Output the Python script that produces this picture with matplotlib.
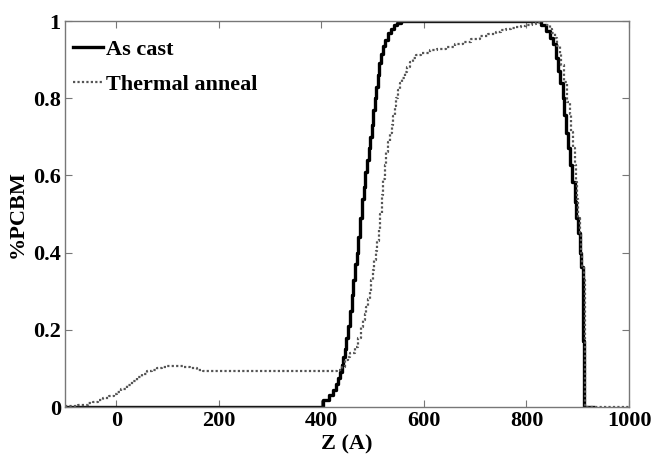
import numpy as np
from matplotlib import pyplot as plt
from matplotlib.ticker import FormatStrFormatter

# As cast profile (step breakpoints)
z_cast = [-100, 404, 415, 423, 428, 433, 437, 440, 443, 446, 449, 452, 456, 459, 462,
          466, 469, 472, 476, 480, 483, 486, 489, 492, 495, 498, 501, 504, 507, 510,
          513, 517, 521, 525, 530, 535, 541, 548, 556,
          828, 838, 846, 851, 857, 862, 866, 871, 874, 878, 881, 885, 889, 894,
          897, 900, 904, 907, 910, 911, 912, 930]
v_cast = [0, 0.018, 0.03, 0.045, 0.06, 0.075, 0.09, 0.11, 0.13, 0.15, 0.18, 0.21, 0.25,
          0.29, 0.33, 0.37, 0.40, 0.44, 0.49, 0.54, 0.57, 0.61, 0.64, 0.67, 0.70, 0.73,
          0.77, 0.80, 0.83, 0.86, 0.89, 0.915, 0.935, 0.95, 0.97, 0.98, 0.99, 0.996, 1.0,
          0.99, 0.975, 0.955, 0.94, 0.905, 0.87, 0.84, 0.80, 0.756, 0.71, 0.67, 0.627,
          0.583, 0.53, 0.49, 0.45, 0.40, 0.363, 0.33, 0.17, 0.0, 0.0]

# Thermal anneal profile
z_ann = [-100, -75, -55, -45, -35, -25, -15, -5, 2, 10, 21, 30, 41, 50, 60, 70, 79, 90, 99,
         118, 130, 144, 157, 170, 190, 430, 440, 446, 451, 456, 465, 472, 478, 482, 485,
         488, 491, 494, 497, 500, 503, 506, 509, 512, 515, 518, 521, 524, 527, 530, 534,
         537, 540, 543, 546, 550, 554, 558, 563, 567, 572, 578, 585, 595, 611, 625, 644,
         660, 676, 692, 709, 725, 740, 750, 761, 770, 780, 790, 800, 810, 819, 825,
         840, 845, 850, 855, 860, 865, 868, 874, 880, 884, 887, 891, 894, 896, 898, 901,
         904, 907, 909, 912, 914, 1000]
v_ann = [0.003, 0.006, 0.01, 0.014, 0.018, 0.023, 0.029, 0.035, 0.04, 0.047, 0.057, 0.067,
         0.079, 0.086, 0.092, 0.097, 0.10, 0.104, 0.106, 0.106, 0.104, 0.10, 0.097, 0.094,
         0.092, 0.095, 0.104, 0.122, 0.13, 0.14, 0.156, 0.18, 0.208, 0.225, 0.24, 0.26,
         0.28, 0.30, 0.33, 0.355, 0.38, 0.405, 0.43, 0.46, 0.50, 0.55, 0.59, 0.627, 0.66,
         0.687, 0.71, 0.73, 0.755, 0.78, 0.80, 0.82, 0.84, 0.853, 0.869, 0.88, 0.895,
         0.905, 0.912, 0.918, 0.925, 0.928, 0.933, 0.94, 0.946, 0.954, 0.962, 0.967,
         0.972, 0.976, 0.98, 0.982, 0.985, 0.987, 0.99, 0.993, 0.995, 1.0,
         0.99, 0.98, 0.97, 0.955, 0.935, 0.915, 0.886, 0.843, 0.79, 0.76, 0.713, 0.67,
         0.627, 0.584, 0.54, 0.49, 0.45, 0.40, 0.363, 0.33, 0.0, 0.0]

x_ticks = [0, 200, 400, 600, 800, 1000]
y_ticks = [0, 0.2, 0.4, 0.6, 0.8, 1]

plt.rcParams["font.family"] = ["Liberation Serif", "DejaVu Serif"]
plt.rcParams["font.weight"] = "bold"
plt.rcParams["font.size"] = 16

fig = plt.figure(figsize=(6.54, 4.54), dpi=100)
ax = fig.add_axes([0.0994, 0.1035, 0.8624, 0.8502])

ax.plot(z_cast, v_cast, drawstyle="steps-post", color="black", lw=2.4, label="As cast")
ax.plot(z_ann, v_ann, drawstyle="steps-post", color="#555555", lw=1.6,
        linestyle=(0, (1, 1)), label="Thermal anneal")

ax.set_xlim(-100, 1000)
ax.set_ylim(0, 1)
ax.set_xticks(x_ticks)
ax.set_yticks(y_ticks)
ax.yaxis.set_major_formatter(FormatStrFormatter("%g"))
ax.tick_params(direction="in", length=5, width=0.8, color="#777777",
               top=True, right=True, labelsize=16, pad=3)
for s in ax.spines.values():
    s.set_color("#777777")
    s.set_linewidth(1.0)

ax.set_xlabel("Z (A)", fontsize=16, fontweight="bold", va="top")
ax.xaxis.set_label_coords(0.5, -0.07)
ax.set_ylabel("%PCBM", fontsize=16, fontweight="bold", va="center")
ax.yaxis.set_label_coords(-0.083, 0.5)

leg = ax.legend(loc="upper left", bbox_to_anchor=(-0.01, 0.988), frameon=False,
                handlelength=1.35, handletextpad=0.15, labelspacing=0.65,
                borderaxespad=0.2, prop={"weight": "bold", "size": 16})

fig.savefig("out.png", dpi=100)
